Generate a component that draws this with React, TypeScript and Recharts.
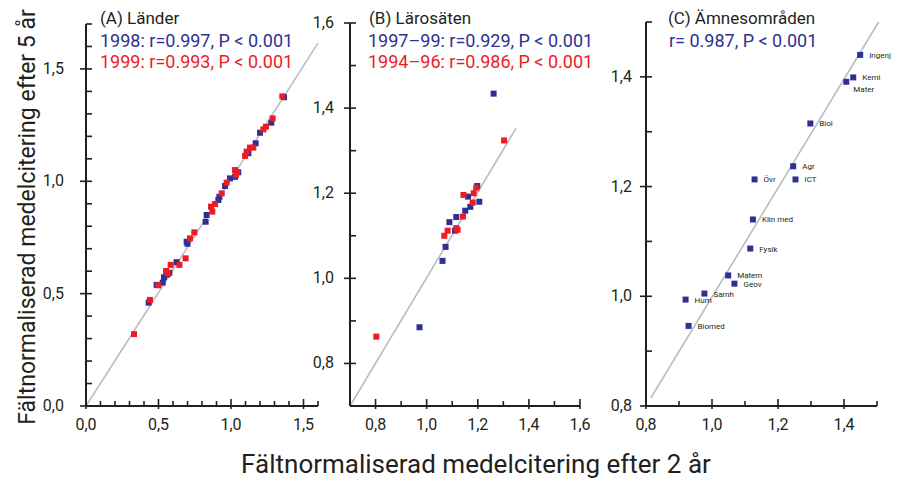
import React from "react";
import { ScatterChart, Scatter, XAxis, YAxis, ReferenceLine } from "recharts";

const FONT = 'Roboto, "Noto Sans", sans-serif';
const BLUE = "#2e3192";
const RED = "#ed1c24";
const INK = "#231f20";
const FIT = "#b9bcc4";

// (A) Länder — [2 år, 5 år]
const LANDER_1998 = [
  [0.432, 0.46], [0.487, 0.539], [0.529, 0.549], [0.538, 0.573], [0.56, 0.585], [0.575, 0.593],
  [0.625, 0.64], [0.694, 0.731], [0.7, 0.722], [0.825, 0.82], [0.832, 0.85], [0.913, 0.917],
  [0.92, 0.931], [0.959, 0.979], [0.993, 1.013], [1.028, 1.02], [1.05, 1.04], [1.12, 1.125],
  [1.17, 1.169], [1.2, 1.216], [1.278, 1.261], [1.366, 1.374],
];
const LANDER_1999 = [
  [0.331, 0.32], [0.441, 0.472], [0.499, 0.537], [0.552, 0.601], [0.565, 0.59], [0.584, 0.628],
  [0.644, 0.628], [0.687, 0.657], [0.717, 0.746], [0.747, 0.773], [0.862, 0.887], [0.871, 0.865],
  [0.89, 0.899], [0.936, 0.946], [0.97, 0.994], [1.028, 1.05], [1.034, 1.028], [1.04, 1.04],
  [1.097, 1.113], [1.108, 1.132], [1.131, 1.15], [1.154, 1.15], [1.223, 1.231], [1.241, 1.243],
  [1.287, 1.28], [1.354, 1.378],
];

// (B) Lärosäten
const LAROSATEN_9799 = [
  [0.972, 0.885], [1.062, 1.041], [1.074, 1.074], [1.089, 1.132], [1.111, 1.112], [1.116, 1.144],
  [1.151, 1.159], [1.162, 1.192], [1.171, 1.168], [1.198, 1.217], [1.206, 1.18], [1.262, 1.434],
];
const LAROSATEN_9496 = [
  [0.803, 0.863], [1.069, 1.1], [1.082, 1.112], [1.116, 1.118], [1.121, 1.114], [1.142, 1.145],
  [1.144, 1.196], [1.18, 1.178], [1.184, 1.2], [1.194, 1.213], [1.303, 1.324],
];

// (C) Ämnesområden
const AMNEN = ["Ingenj", "Kemi", "Mater", "Biol", "Agr", "ICT", "Övr", "Klin med", "Fysik", "Matem", "Geov", "Samh", "Hum", "Biomed"];
const AMNEN_X = [1.449, 1.428, 1.407, 1.298, 1.246, 1.253, 1.129, 1.124, 1.116, 1.049, 1.068, 0.977, 0.92, 0.929];
const AMNEN_Y = [1.44, 1.399, 1.391, 1.315, 1.237, 1.213, 1.213, 1.14, 1.087, 1.038, 1.023, 1.005, 0.994, 0.946];
const LABEL_BELOW = ["Mater"];

// fitted lines
const FIT_A = [[0, 0], [1.6, 1.615]];
const FIT_B = [[0.7, 0.7], [1.35, 1.353]];
const FIT_C = [[0.815, 0.815], [1.505, 1.5]];

// axes
const A_X_TICKS = [0, 0.1, 0.2, 0.3, 0.4, 0.5, 0.6, 0.7, 0.8, 0.9, 1.0, 1.1, 1.2, 1.3, 1.4, 1.5, 1.6];
const A_Y_TICKS = [0, 0.1, 0.2, 0.3, 0.4, 0.5, 0.6, 0.7, 0.8, 0.9, 1.0, 1.1, 1.2, 1.3, 1.4, 1.5, 1.6, 1.7];
const B_X_TICKS = [0.7, 0.8, 0.9, 1.0, 1.1, 1.2, 1.3, 1.4, 1.5, 1.6];
const B_Y_TICKS = [0.7, 0.8, 0.9, 1.0, 1.1, 1.2, 1.3, 1.4, 1.5, 1.6];
const C_X_TICKS = [0.8, 0.9, 1.0, 1.1, 1.2, 1.3, 1.4, 1.5];
const C_Y_TICKS = [0.8, 0.9, 1.0, 1.1, 1.2, 1.3, 1.4, 1.5];

const W = 897;
const H = 483;

const toPts = (arr: number[][]) => arr.map(([x, y]) => ({ x, y }));

function isMajor(v: number, step: number) {
  const r = v / step;
  return Math.abs(r - Math.round(r)) < 1e-6;
}

function fmt(v: number) {
  return v.toFixed(1).replace(".", ",");
}

// labels only; the tick marks themselves are ReferenceLine segments
function xLabel(step: number) {
  return (props: any) => {
    const { x, y, payload } = props;
    if (!isMajor(payload.value, step)) return <g />;
    return (
      <text x={x} y={y + 24} textAnchor="middle" fontSize={16} fontFamily={FONT} fill={INK}>
        {fmt(payload.value)}
      </text>
    );
  };
}

function yLabel(step: number, gap: number) {
  return (props: any) => {
    const { x, y, payload } = props;
    if (!isMajor(payload.value, step)) return <g />;
    return (
      <text x={x - gap} y={y + 5} textAnchor="end" fontSize={16} fontFamily={FONT} fill={INK}>
        {fmt(payload.value)}
      </text>
    );
  };
}

const square = (size: number, color: string) => (props: any) => (
  <rect x={props.cx - size / 2} y={props.cy - size / 2} width={size} height={size} fill={color} />
);

const SubjectShape = (props: any) => {
  const { cx, cy, payload } = props;
  const below = LABEL_BELOW.includes(payload.name);
  return (
    <g>
      <rect x={cx - 3} y={cy - 3} width={6} height={6} fill={BLUE} />
      <text x={cx + (below ? 7 : 9)} y={cy + (below ? 10 : 3)} fontSize={8} fontFamily={FONT} fill={INK}>
        {payload.name}
      </text>
    </g>
  );
};

interface PanelProps {
  left: number;
  right: number;
  top: number;
  bottom: number;
  xDomain: [number, number];
  yDomain: [number, number];
  xTicks: number[];
  yTicks: number[];
  xStep: number;
  yStep: number;
  yGap: number;
  fit: number[][];
  children: React.ReactNode;
}

function Panel(p: PanelProps) {
  const seg = p.fit.map(([x, y]) => ({ x, y }));
  // one pixel in data units, to give the tick marks their length
  const ux = (p.xDomain[1] - p.xDomain[0]) / (p.right - p.left);
  const uy = (p.yDomain[1] - p.yDomain[0]) / (p.bottom - p.top);
  const x0 = p.xDomain[0];
  const y0 = p.yDomain[0];

  const xMarks = p.xTicks.map((v) => {
    const major = isMajor(v, p.xStep);
    return (
      <ReferenceLine
        key={`xt${v}`}
        segment={[{ x: v, y: y0 - (major ? 3 : 0) * uy }, { x: v, y: y0 + (major ? 7 : 5) * uy }]}
        stroke={INK}
        strokeWidth={1.6}
        ifOverflow="visible"
      />
    );
  });
  const yMarks = p.yTicks.map((v) => {
    const major = isMajor(v, p.yStep);
    return (
      <ReferenceLine
        key={`yt${v}`}
        segment={[{ x: x0 - (major ? 6 : 0) * ux, y: v }, { x: x0 + 6 * ux, y: v }]}
        stroke={INK}
        strokeWidth={1.6}
        ifOverflow="visible"
      />
    );
  });

  return (
    <div style={{ position: "absolute", left: 0, top: 0 }}>
      <ScatterChart
        width={W}
        height={H}
        margin={{ left: p.left - 30, right: W - p.right, top: p.top, bottom: H - p.bottom - 30 }}
      >
        <XAxis
          type="number"
          dataKey="x"
          domain={p.xDomain}
          ticks={p.xTicks}
          height={30}
          axisLine={{ stroke: INK, strokeWidth: 2 }}
          tickLine={false}
          tickSize={0}
          tickMargin={0}
          interval={0}
          tick={xLabel(p.xStep)}
        />
        <YAxis
          type="number"
          dataKey="y"
          domain={p.yDomain}
          ticks={p.yTicks}
          width={30}
          axisLine={{ stroke: INK, strokeWidth: 2 }}
          tickLine={false}
          tickSize={0}
          tickMargin={0}
          interval={0}
          tick={yLabel(p.yStep, p.yGap)}
        />
        {xMarks}
        {yMarks}
        <ReferenceLine segment={seg} stroke={FIT} strokeWidth={1.6} ifOverflow="visible" />
        {p.children}
      </ScatterChart>
    </div>
  );
}

export default function App() {
  const subjects = AMNEN.map((name, i) => ({ name, x: AMNEN_X[i], y: AMNEN_Y[i] }));
  return (
    <div style={{ position: "absolute", left: 0, top: 0, width: W, height: H, background: "#fff", fontFamily: FONT }}>
      <Panel left={86} right={318} top={24} bottom={406} xDomain={[0, 1.6]} yDomain={[0, 1.7]}
        xTicks={A_X_TICKS} yTicks={A_Y_TICKS} xStep={0.5} yStep={0.5} yGap={22} fit={FIT_A}>
        <Scatter data={toPts(LANDER_1998)} shape={square(6, BLUE)} isAnimationActive={false} />
        <Scatter data={toPts(LANDER_1999)} shape={square(6, RED)} isAnimationActive={false} />
      </Panel>
      <Panel left={350} right={580} top={23} bottom={406} xDomain={[0.7, 1.6]} yDomain={[0.7, 1.6]}
        xTicks={B_X_TICKS} yTicks={B_Y_TICKS} xStep={0.2} yStep={0.2} yGap={16} fit={FIT_B}>
        <Scatter data={toPts(LAROSATEN_9799)} shape={square(6, BLUE)} isAnimationActive={false} />
        <Scatter data={toPts(LAROSATEN_9496)} shape={square(6, RED)} isAnimationActive={false} />
      </Panel>
      <Panel left={646} right={877} top={22} bottom={406} xDomain={[0.8, 1.5]} yDomain={[0.8, 1.5]}
        xTicks={C_X_TICKS} yTicks={C_Y_TICKS} xStep={0.2} yStep={0.2} yGap={14} fit={FIT_C}>
        <Scatter data={subjects} shape={SubjectShape} isAnimationActive={false} />
      </Panel>
      <svg width={W} height={H} style={{ position: "absolute", left: 0, top: 0, pointerEvents: "none" }}>
        <g fontFamily={FONT}>
          <text x={100} y={24} fontSize={17} fill={INK}>(A) Länder</text>
          <text x={100} y={47} fontSize={18} fill={BLUE}>1998: r=0.997, P &lt; 0.001</text>
          <text x={100} y={68} fontSize={18} fill={RED}>1999: r=0.993, P &lt; 0.001</text>
          <text x={369} y={24} fontSize={17} fill={INK}>(B) Lärosäten</text>
          <text x={368} y={47} fontSize={18} fill={BLUE}>1997–99: r=0.929, P &lt; 0.001</text>
          <text x={368} y={68} fontSize={18} fill={RED}>1994–96: r=0.986, P &lt; 0.001</text>
          <text x={668} y={24} fontSize={17} fill={INK}>(C) Ämnesområden</text>
          <text x={669} y={47} fontSize={18} fill={BLUE}>r= 0.987, P &lt; 0.001</text>
          <text x={35} y={217} fontSize={23} fill={INK} textAnchor="middle" transform="rotate(-90 35 217)">
            Fältnormaliserad medelcitering efter 5 år
          </text>
          <text x={476} y={473} fontSize={26} fill={INK} textAnchor="middle">
            Fältnormaliserad medelcitering efter 2 år
          </text>
        </g>
      </svg>
    </div>
  );
}
